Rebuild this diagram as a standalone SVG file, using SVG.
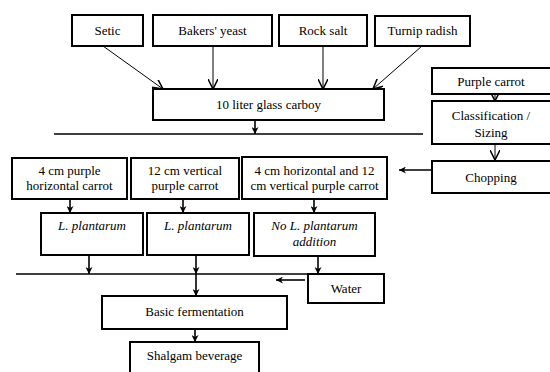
<svg xmlns="http://www.w3.org/2000/svg" width="550" height="372" viewBox="0 0 550 372">
<style>
.box{fill:#fff;stroke:#000;stroke-width:2}
text{font-family:'Liberation Serif','Tinos','DejaVu Serif',serif;font-size:13px;fill:#000;text-anchor:middle}
.i{font-style:italic}
.c{stroke:#000;stroke-width:1.6;fill:none}
.thin{stroke:#000;stroke-width:1;fill:none}
</style>
<defs>
<marker id="a" viewBox="0 0 10 10" refX="10" refY="5" markerWidth="7" markerHeight="7" markerUnits="userSpaceOnUse" orient="auto">
<path d="M0,0 L10,5 L0,10 L3,5 Z" fill="#000"/>
</marker>
<marker id="b" viewBox="0 0 10 10" refX="10" refY="5" markerWidth="10" markerHeight="10" markerUnits="userSpaceOnUse" orient="auto">
<path d="M0,0 L10,5 L0,10" fill="none" stroke="#000" stroke-width="1.5"/>
</marker>
</defs>
<rect width="550" height="372" fill="#fff"/>
<g id="connectors">
<line class="thin" x1="103" y1="46" x2="163" y2="89" marker-end="url(#b)"/>
<line class="thin" x1="213" y1="40" x2="213" y2="89" marker-end="url(#b)"/>
<line class="thin" x1="323" y1="40" x2="323" y2="89" marker-end="url(#b)"/>
<line class="thin" x1="422" y1="46" x2="373" y2="89" marker-end="url(#b)"/>
<line class="thin" x1="495" y1="86" x2="495" y2="101" marker-end="url(#b)"/>
<line class="thin" x1="495" y1="142" x2="495" y2="160" marker-end="url(#b)"/>
<line class="c" x1="255" y1="118" x2="255" y2="134" marker-end="url(#a)"/>
<line class="c" x1="54" y1="134" x2="423" y2="134"/>
<line class="c" x1="432" y1="170" x2="399" y2="170" marker-end="url(#a)"/>
<line class="c" x1="70" y1="190" x2="70" y2="213" marker-end="url(#a)"/>
<line class="c" x1="183" y1="190" x2="183" y2="213" marker-end="url(#a)"/>
<line class="c" x1="314" y1="190" x2="314" y2="213" marker-end="url(#a)"/>
<line class="c" x1="89" y1="250" x2="89" y2="274" marker-end="url(#a)"/>
<line class="c" x1="196" y1="250" x2="196" y2="274" marker-end="url(#a)"/>
<line class="c" x1="318" y1="248" x2="318" y2="274" marker-end="url(#a)"/>
<line class="c" x1="16" y1="274" x2="310" y2="274"/>
<line class="c" x1="305" y1="280" x2="276" y2="280" marker-end="url(#a)"/>
<line class="c" x1="196" y1="274" x2="196" y2="296" marker-end="url(#a)"/>
<line class="c" x1="195" y1="320" x2="195" y2="342" marker-end="url(#a)"/>
</g>
<g id="setic"><rect class="box" x="72" y="15" width="71" height="31"/><text x="107.5" y="35">Setic</text></g>
<g id="yeast"><rect class="box" x="153" y="15" width="119" height="31"/><text x="212.5" y="35">Bakers' yeast</text></g>
<g id="rocksalt"><rect class="box" x="279" y="15" width="88" height="31"/><text x="323" y="35">Rock salt</text></g>
<g id="turnip"><rect class="box" x="375" y="16" width="95" height="30"/><text x="422.5" y="35">Turnip radish</text></g>
<g id="carboy"><rect class="box" x="153" y="89" width="231" height="31"/><text x="268.5" y="109">10 liter glass carboy</text></g>
<g id="purple"><rect class="box" x="432" y="68" width="120" height="26"/><text x="491" y="86">Purple carrot</text></g>
<g id="classification"><rect class="box" x="432" y="101" width="120" height="43"/><text x="491" y="120">Classification /</text><text x="491" y="137">Sizing</text></g>
<g id="chopping"><rect class="box" x="432" y="161" width="120" height="32"/><text x="491" y="182">Chopping</text></g>
<g id="c4"><rect class="box" x="12" y="158" width="115" height="41"/><text x="69.5" y="175">4 cm purple</text><text x="69.5" y="190">horizontal carrot</text></g>
<g id="c12"><rect class="box" x="131" y="158" width="108" height="41"/><text x="185" y="175">12 cm vertical</text><text x="185" y="190">purple carrot</text></g>
<g id="cboth"><rect class="box" x="242" y="157" width="145" height="42"/><text x="314.5" y="175">4 cm horizontal and 12</text><text x="314.5" y="190">cm vertical purple carrot</text></g>
<g id="lp1"><rect class="box" x="41" y="213" width="102" height="42"/><text class="i" x="92" y="230">L. plantarum</text></g>
<g id="lp2"><rect class="box" x="147" y="213" width="102" height="42"/><text class="i" x="198" y="230">L. plantarum</text></g>
<g id="nolp"><rect class="box" x="254" y="213" width="121" height="43"/><text class="i" x="314.5" y="230">No L. plantarum</text><text class="i" x="314.5" y="246">addition</text></g>
<g id="water"><rect class="box" x="308" y="274" width="76" height="29"/><text x="346" y="293">Water</text></g>
<g id="basic"><rect class="box" x="102" y="296" width="185" height="33"/><text x="194.5" y="316">Basic fermentation</text></g>
<g id="shalgam"><rect class="box" x="130" y="342" width="129" height="40"/><text x="194.5" y="360">Shalgam beverage</text></g>
</svg>
